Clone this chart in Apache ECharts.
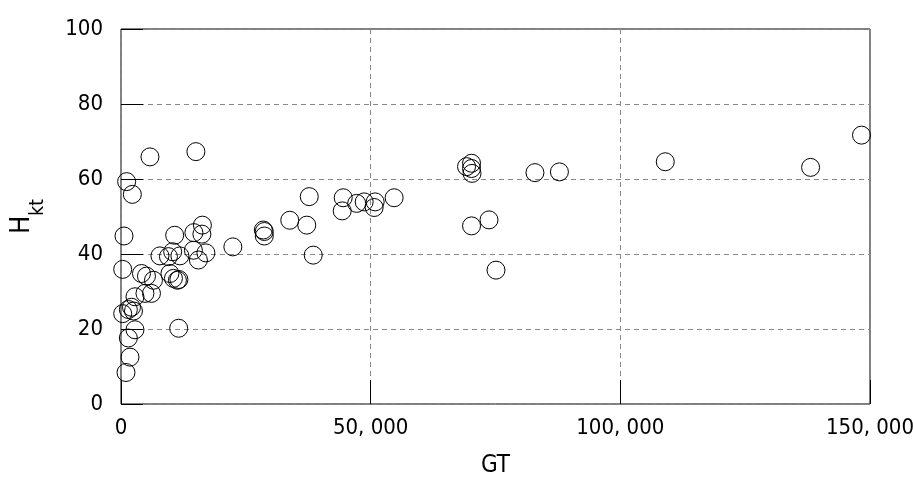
<!DOCTYPE html>
<html>
<head>
<meta charset="utf-8">
<script src="https://cdn.jsdelivr.net/npm/echarts@6/dist/echarts.min.js"></script>
<style>html,body{margin:0;padding:0;background:#fff;}#c{width:913px;height:489px;}</style>
</head>
<body>
<div id="c"></div>
<script>
var gtValues = [1000,1800,1470,2800,340,1470,2100,2500,2800,4800,6100,340,4100,5100,6500,9800,10500,11300,11600,600,1130,2270,5800,15000,7800,9500,10350,10750,11800,14500,14600,15500,16300,16200,17000,22400,11550,28500,28700,28700,33800,37200,37700,38500,44500,44300,47200,48700,50900,50700,54700,70200,69200,70200,70300,70200,73700,75100,82900,87800,109000,138100,148300];
var hktValues = [8.4,12.5,17.6,19.8,24.1,25.2,25.8,24.8,28.6,29.5,29.5,35.9,34.8,34.1,33,34.8,33.5,33,33.2,44.8,59.3,55.9,65.9,67.3,39.5,39.3,40.6,45,39.5,41,45.7,38.4,47.7,45.3,40.3,41.9,20.2,46.4,46.0,44.8,49,47.7,55.3,39.7,55,51.5,53.5,53.9,53.9,52.4,55,64.2,63.3,62.8,61.5,47.5,49.1,35.7,61.7,61.9,64.6,63.1,71.7];
var xTickLabels = {0:'0',50000:'50, 000',100000:'100, 000',150000:'150, 000'};
var yTickLabels = ['0','20','40','60','80','100'];
var xTitle = 'GT';
var yTitleMain = 'H';
var yTitleSub = 'kt';

var points = gtValues.map(function(v,i){return [v, hktValues[i]];});
var FONT = '"Liberation Sans Narrow","DejaVu Sans Condensed",sans-serif';

function tickAxisX(pos){
  return {type:'value',min:0,max:150000,interval:50000,position:pos,offset:-12,
    axisLine:{show:false},axisTick:{show:true,length:12,lineStyle:{color:'#000'}},
    axisLabel:{show:false},splitLine:{show:false}};
}
function tickAxisY(pos){
  return {type:'value',min:0,max:100,interval:20,position:pos,offset:-11,
    axisLine:{show:false},axisTick:{show:true,length:11,lineStyle:{color:'#000'}},
    axisLabel:{show:false},splitLine:{show:false}};
}

var chart = echarts.init(document.getElementById('c'));
chart.setOption({
  animation:false,
  backgroundColor:'#fff',
  grid:{left:121,right:43,top:29,bottom:85,show:true,borderColor:'#000',borderWidth:1,
        backgroundColor:'rgba(0,0,0,0)',containLabel:false,outerBoundsMode:'none'},
  xAxis:[{
    type:'value',min:0,max:150000,interval:50000,position:'bottom',
    axisLine:{show:false},
    axisTick:{show:false},
    axisLabel:{margin:13,color:'#000',fontSize:22,fontFamily:FONT,formatter:function(v){return xTickLabels[v];}},
    splitLine:{show:true,lineStyle:{color:'#888',type:[5,4],width:1}},
    name:xTitle,nameLocation:'middle',nameGap:50,
    nameTextStyle:{color:'#000',fontSize:24,fontFamily:FONT}
  }, tickAxisX('bottom'), tickAxisX('top')],
  yAxis:[{
    type:'value',min:0,max:100,interval:20,position:'left',
    axisLine:{show:false},
    axisTick:{show:false},
    axisLabel:{margin:18,color:'#000',fontSize:22,fontFamily:FONT,padding:[0,0,10,0],
      formatter:function(v){return yTickLabels[Math.round(v/20)];}},
    splitLine:{show:true,lineStyle:{color:'#888',type:[5,4],width:1}},
    name:'{h|'+yTitleMain+'}{s|'+yTitleSub+'}',nameLocation:'middle',nameGap:73,nameRotate:90,
    nameTextStyle:{color:'#000',fontFamily:FONT,
      rich:{h:{fontSize:27,fontFamily:FONT,color:'#000',lineHeight:40,verticalAlign:'top'},
            s:{fontSize:19,fontFamily:FONT,color:'#000',lineHeight:40,verticalAlign:'bottom'}}}
  }, tickAxisY('left'), tickAxisY('right')],
  series:[{
    type:'scatter',xAxisIndex:0,yAxisIndex:0,data:points,
    symbol:'circle',symbolSize:18,
    itemStyle:{color:'rgba(0,0,0,0)',borderColor:'#000',borderWidth:1,opacity:1},
    emphasis:{disabled:true}
  }]
});
</script>
</body>
</html>
